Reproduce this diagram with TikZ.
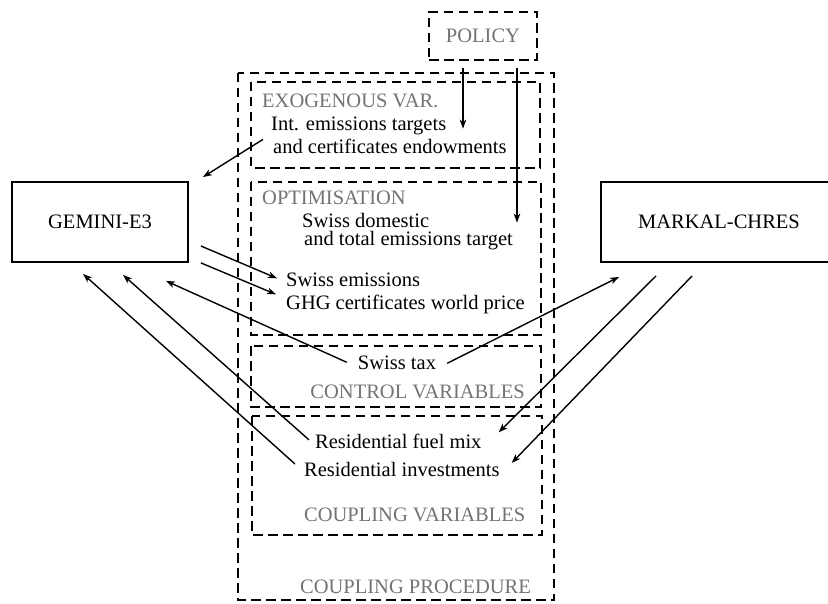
\documentclass[tikz,border=0pt]{standalone}
\usepackage{fontspec}
\setmainfont{Liberation Serif}
\usetikzlibrary{arrows.meta}
\begin{document}
\begin{tikzpicture}[x=1pt,y=-1pt,
  font=\fontsize{20.5}{23}\selectfont,
  model/.style={draw,line width=1.8pt,minimum width=176pt,minimum height=80pt,inner sep=0pt},
  region/.style={draw,line width=1.3pt,dash pattern=on 9.5pt off 5.5pt},
  txt/.style={inner sep=0pt,anchor=base west},
  tag/.style={inner sep=0pt,text=black!55},
  arr/.style={line width=1.4pt,-{Stealth[length=9pt,width=6.5pt,inset=2.5pt]}}]
\useasboundingbox (0,0) rectangle (828,604);

% nested dashed regions of the coupling procedure
\draw[region] (238,73) rectangle (554,600);
\draw[region] (251,82) rectangle (540,168);
\draw[region] (251,182) rectangle (541,335);
\draw[region] (251,346) rectangle (541,407);
\draw[region] (252,416) rectangle (542,535);

% region titles
\node[tag,anchor=base west] (exotag) at (262,108) {EXOGENOUS VAR.};
\node[tag,anchor=base west] (opttag) at (262,205) {OPTIMISATION};
\node[tag,anchor=base east] (ctrltag) at (525,398) {CONTROL VARIABLES};
\node[tag,anchor=base west] (couptag) at (304,521) {COUPLING VARIABLES};
\node[tag,anchor=base west] (proctag) at (300,593) {COUPLING PROCEDURE};

% models and policy
\node[model] (gem) at (100,222) {GEMINI-E3};
\node[model,minimum width=236pt] (mark) at (719,222) {MARKAL-CHRES};
\node[region,text=black!55,minimum width=108pt,minimum height=48pt,inner sep=0pt] (policy) at (483,36) {POLICY};

% variables
\node[txt] (t1) at (271,131) {Int. emissions targets};
\node[txt] (t2) at (273,154) {and certificates endowments};
\node[txt] (d1) at (302,228) {Swiss domestic};
\node[txt] (d2) at (304,246) {and total emissions target};
\node[txt] (e1) at (286,287) {Swiss emissions};
\node[txt] (e2) at (286,309) {GHG certificates world price};
\node[inner sep=0pt,anchor=base] (tax) at (397,370) {Swiss tax};
\node[txt] (f1) at (315,448) {Residential fuel mix};
\node[txt] (f2) at (304,476) {Residential investments};

% policy inputs
\draw[arr] ([xshift=-20pt,yshift=-7pt]policy.south) -- ([shift={(-20,68)}]policy.south);
\draw[arr] ([xshift=34pt,yshift=-7pt]policy.south) -- ([shift={(34,162)}]policy.south);

% exchanges with GEMINI-E3
\draw[arr] ([shift={(-10,0)}]t2.north west) -- ([shift={(14,-4)}]gem.north east);
\draw[arr] ([shift={(12,24)}]gem.east) -- ([shift={(-9,-2)}]e1.west);
\draw[arr] ([shift={(12,0)}]gem.south east) -- ([shift={(-10,0)}]e2.north west);
\draw[arr] ([shift={(-11,-1)}]tax.west) -- ([shift={(-23,18)}]gem.south east);
\draw[arr] ([shift={(-6,-1)}]f1.west) -- ([shift={(23,12)}]gem.south);
\draw[arr] ([shift={(-9,-5)}]f2.west) -- ([shift={(-17,11)}]gem.south);

% exchanges with MARKAL-CHRES
\draw[arr] ([shift={(11,0)}]tax.east) -- ([shift={(19,14)}]mark.south west);
\draw[arr] ([shift={(56,13)}]mark.south west) -- ([shift={(17,-1)}]f1.north east);
\draw[arr] ([shift={(92,13)}]mark.south west) -- ([shift={(12,-6)}]f2.east);
\end{tikzpicture}
\end{document}
